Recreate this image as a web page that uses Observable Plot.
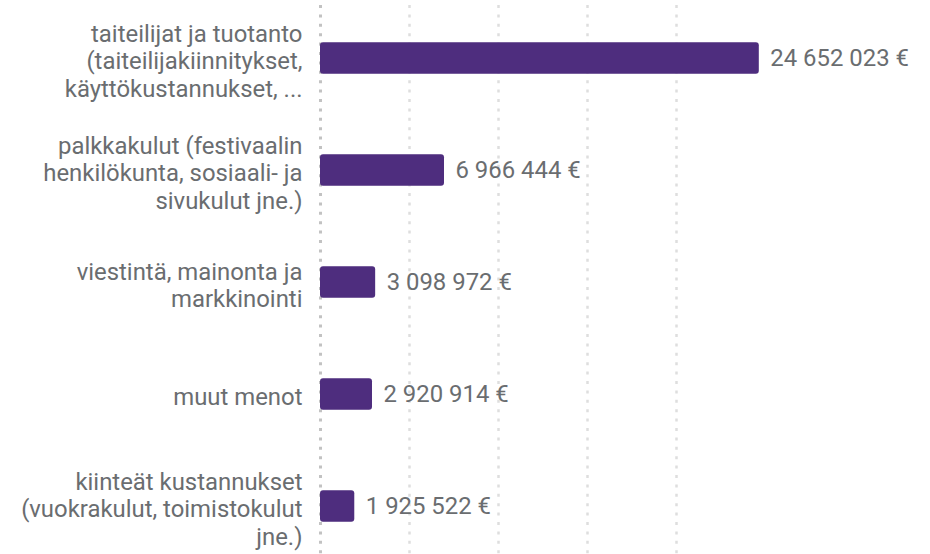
<!DOCTYPE html>
<html>
<head>
<meta charset="utf-8">
<script src="https://cdn.jsdelivr.net/npm/d3@7"></script>
<script src="https://cdn.jsdelivr.net/npm/@observablehq/plot@0.6"></script>
<style>
  html, body { margin: 0; padding: 0; background: #fff; }
  #chart { width: 930px; height: 554px; overflow: hidden; }
</style>
</head>
<body>
<div id="chart"></div>
<script>
const categories = [
  "taiteilijat ja tuotanto\n(taiteilijakiinnitykset,\nkäyttökustannukset, ...",
  "palkkakulut (festivaalin\nhenkilökunta, sosiaali- ja\nsivukulut jne.)",
  "viestintä, mainonta ja\nmarkkinointi",
  "muut menot",
  "kiinteät kustannukset\n(vuokrakulut, toimistokulut\njne.)"
];
const values = [24652023, 6966444, 3098972, 2920914, 1925522];
const gridTicks = [0, 5000000, 10000000, 15000000, 20000000];

const data = categories.map((c, i) => ({category: c, value: values[i]}));
const fmt = v => d3.format(",")(v).replace(/,/g, " ") + " €";

const FONT = "Roboto, sans-serif";
const GRAY = "#6a6d70";

const chart = Plot.plot({
  width: 930,
  height: 554,
  marginLeft: 320,
  marginRight: 165,
  marginTop: 5,
  marginBottom: 0,
  style: {fontFamily: FONT, background: "#fff"},
  x: {domain: [0, 25000000], axis: null},
  y: {domain: categories, range: [1.3, 563.3], padding: 0, axis: null},
  marks: [
    Plot.ruleX(gridTicks.slice(1), {stroke: "#dedede", strokeWidth: 2.5, strokeDasharray: "3,6.4"}),
    Plot.ruleX([0], {stroke: "#c2c2c2", strokeWidth: 3, strokeDasharray: "3,6.4"}),
    Plot.barX(data, {x: "value", y: "category", fill: "#4e2d7e", insetTop: 40.2, insetBottom: 40.2, rx: 3}),
    Plot.text(data, {x: "value", y: "category", text: d => fmt(d.value), textAnchor: "start", dx: 11,
      fill: GRAY, fontSize: 23.9}),
    Plot.text(data, {x: 0, y: "category", text: "category", textAnchor: "end", dx: -18, dy: 2,
      fill: GRAY, fontSize: 23.9, lineHeight: 1.15})
  ]
});
document.getElementById("chart").appendChild(chart);
</script>
</body>
</html>
